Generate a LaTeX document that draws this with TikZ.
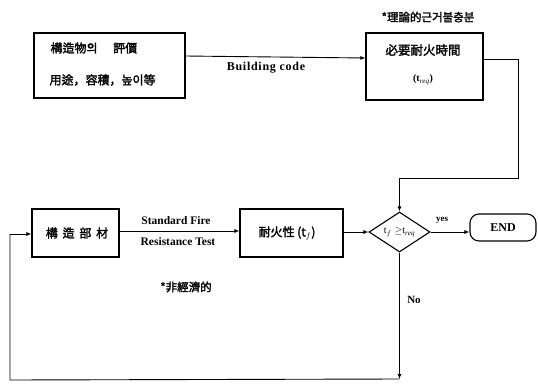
\documentclass[tikz,border=0pt]{standalone}
\usepackage{fontspec}
\setmainfont{Liberation Serif}
\newfontfamily\kr[FakeBold=2]{Noto Sans CJK KR}
\usetikzlibrary{shapes.geometric,arrows.meta}
\begin{document}
\begin{tikzpicture}[x=1pt,y=-1pt,
  boxst/.style={draw,line width=1.1pt,inner sep=0pt},
  conn/.style={line width=0.9pt},
  arr/.style={conn,-{Latex[length=5pt,width=4pt]}},
  lbl/.style={font=\bfseries\fontsize{11.5}{13}\selectfont},
  krt/.style={font=\kr\fontsize{12}{14}\selectfont}]
\useasboundingbox (0,0) rectangle (538,383);
% top row
\node[boxst,minimum width=151pt,minimum height=65pt] (b1) at (109.5,65.5) {};
\node[krt,anchor=west] (t1a) at (47,48) {構造物의\hspace{1.3em}評價};
\node[krt,anchor=west] (t1b) at (46,80) {用途，容積，높이等};
\node[boxst,minimum width=117pt,minimum height=67pt] (b2) at (424.5,66.5) {};
\node[krt,font=\kr\fontsize{12.5}{14}\selectfont] (t2a) at (423,50) {必要耐火時間};
\node[font=\bfseries\fontsize{10}{12}\selectfont] (t2b) at (423,80) {(t$_{\mathit{req}}$)};
\node[krt,font=\kr\fontsize{11.5}{13}\selectfont] (note1) at (428,17) {*理論的근거불충분};
\draw[arr] (b1.east |- 0,56) -- (b2.west |- 0,58);
\node[font=\bfseries\fontsize{12}{13}\selectfont\addfontfeature{LetterSpace=6}] (bc) at (266,68) {Building code};
% bottom row
\node[boxst,minimum width=87pt,minimum height=48pt] (b3) at (75.5,233) {};
\node[krt] (t3) at (77,233) {構\hspace{0.4em}造\hspace{0.4em}部\hspace{0.4em}材};
\node[boxst,minimum width=103pt,minimum height=48pt] (b4) at (291.5,233) {};
\node[krt] (t4) at (287,233) {耐火性 (t$_f$)};
\node[draw,diamond,line width=1.1pt,aspect=1.5,minimum width=61pt,minimum height=40pt,inner sep=0pt,font=\fontsize{10}{12}\selectfont] (d) at (399.5,232) {t$_f\geq$t$_{\mathit{req}}$};
\node[draw,line width=1.1pt,rounded corners=9pt,minimum width=66pt,minimum height=27pt,font=\bfseries\fontsize{12}{13}\selectfont] (end) at (503,227.5) {END};
\draw[arr] (b3.east |- 0,231) -- (b4.west |- 0,231);
\node[lbl] (sf) at (176,221) {Standard Fire};
\node[lbl] (rt) at (178,242) {Resistance Test};
\draw[arr] (b4.east |- 0,232) -- (d.west);
\draw[arr] (d.east) -- (end.west |- d.east);
\node[font=\bfseries\fontsize{9}{10}\selectfont] (yes) at (442,220) {yes};
% loop from b2 to diamond
\coordinate (c1) at (518,59);
\coordinate (c2) at (518,178);
\coordinate (c3) at (399.5,178);
\draw[arr] (b2.east |- 0,59) -- (c1) -- (c2) -- (c3) -- (d.north);
% No loop
\coordinate (n1) at (399.5,379);
\coordinate (n2) at (10,380);
\coordinate (n3) at (10,234);
\draw[arr] (d.south) -- (n1);
\draw[conn] (n1) -- (n2) -- (n3);
\draw[arr] (n3) -- (b3.west |- n3);
\node[font=\bfseries\fontsize{11}{12}\selectfont] (no) at (414,300) {No};
\node[krt,font=\kr\fontsize{11.5}{13}\selectfont] (note2) at (186,287) {*非經濟的};
\end{tikzpicture}
\end{document}
